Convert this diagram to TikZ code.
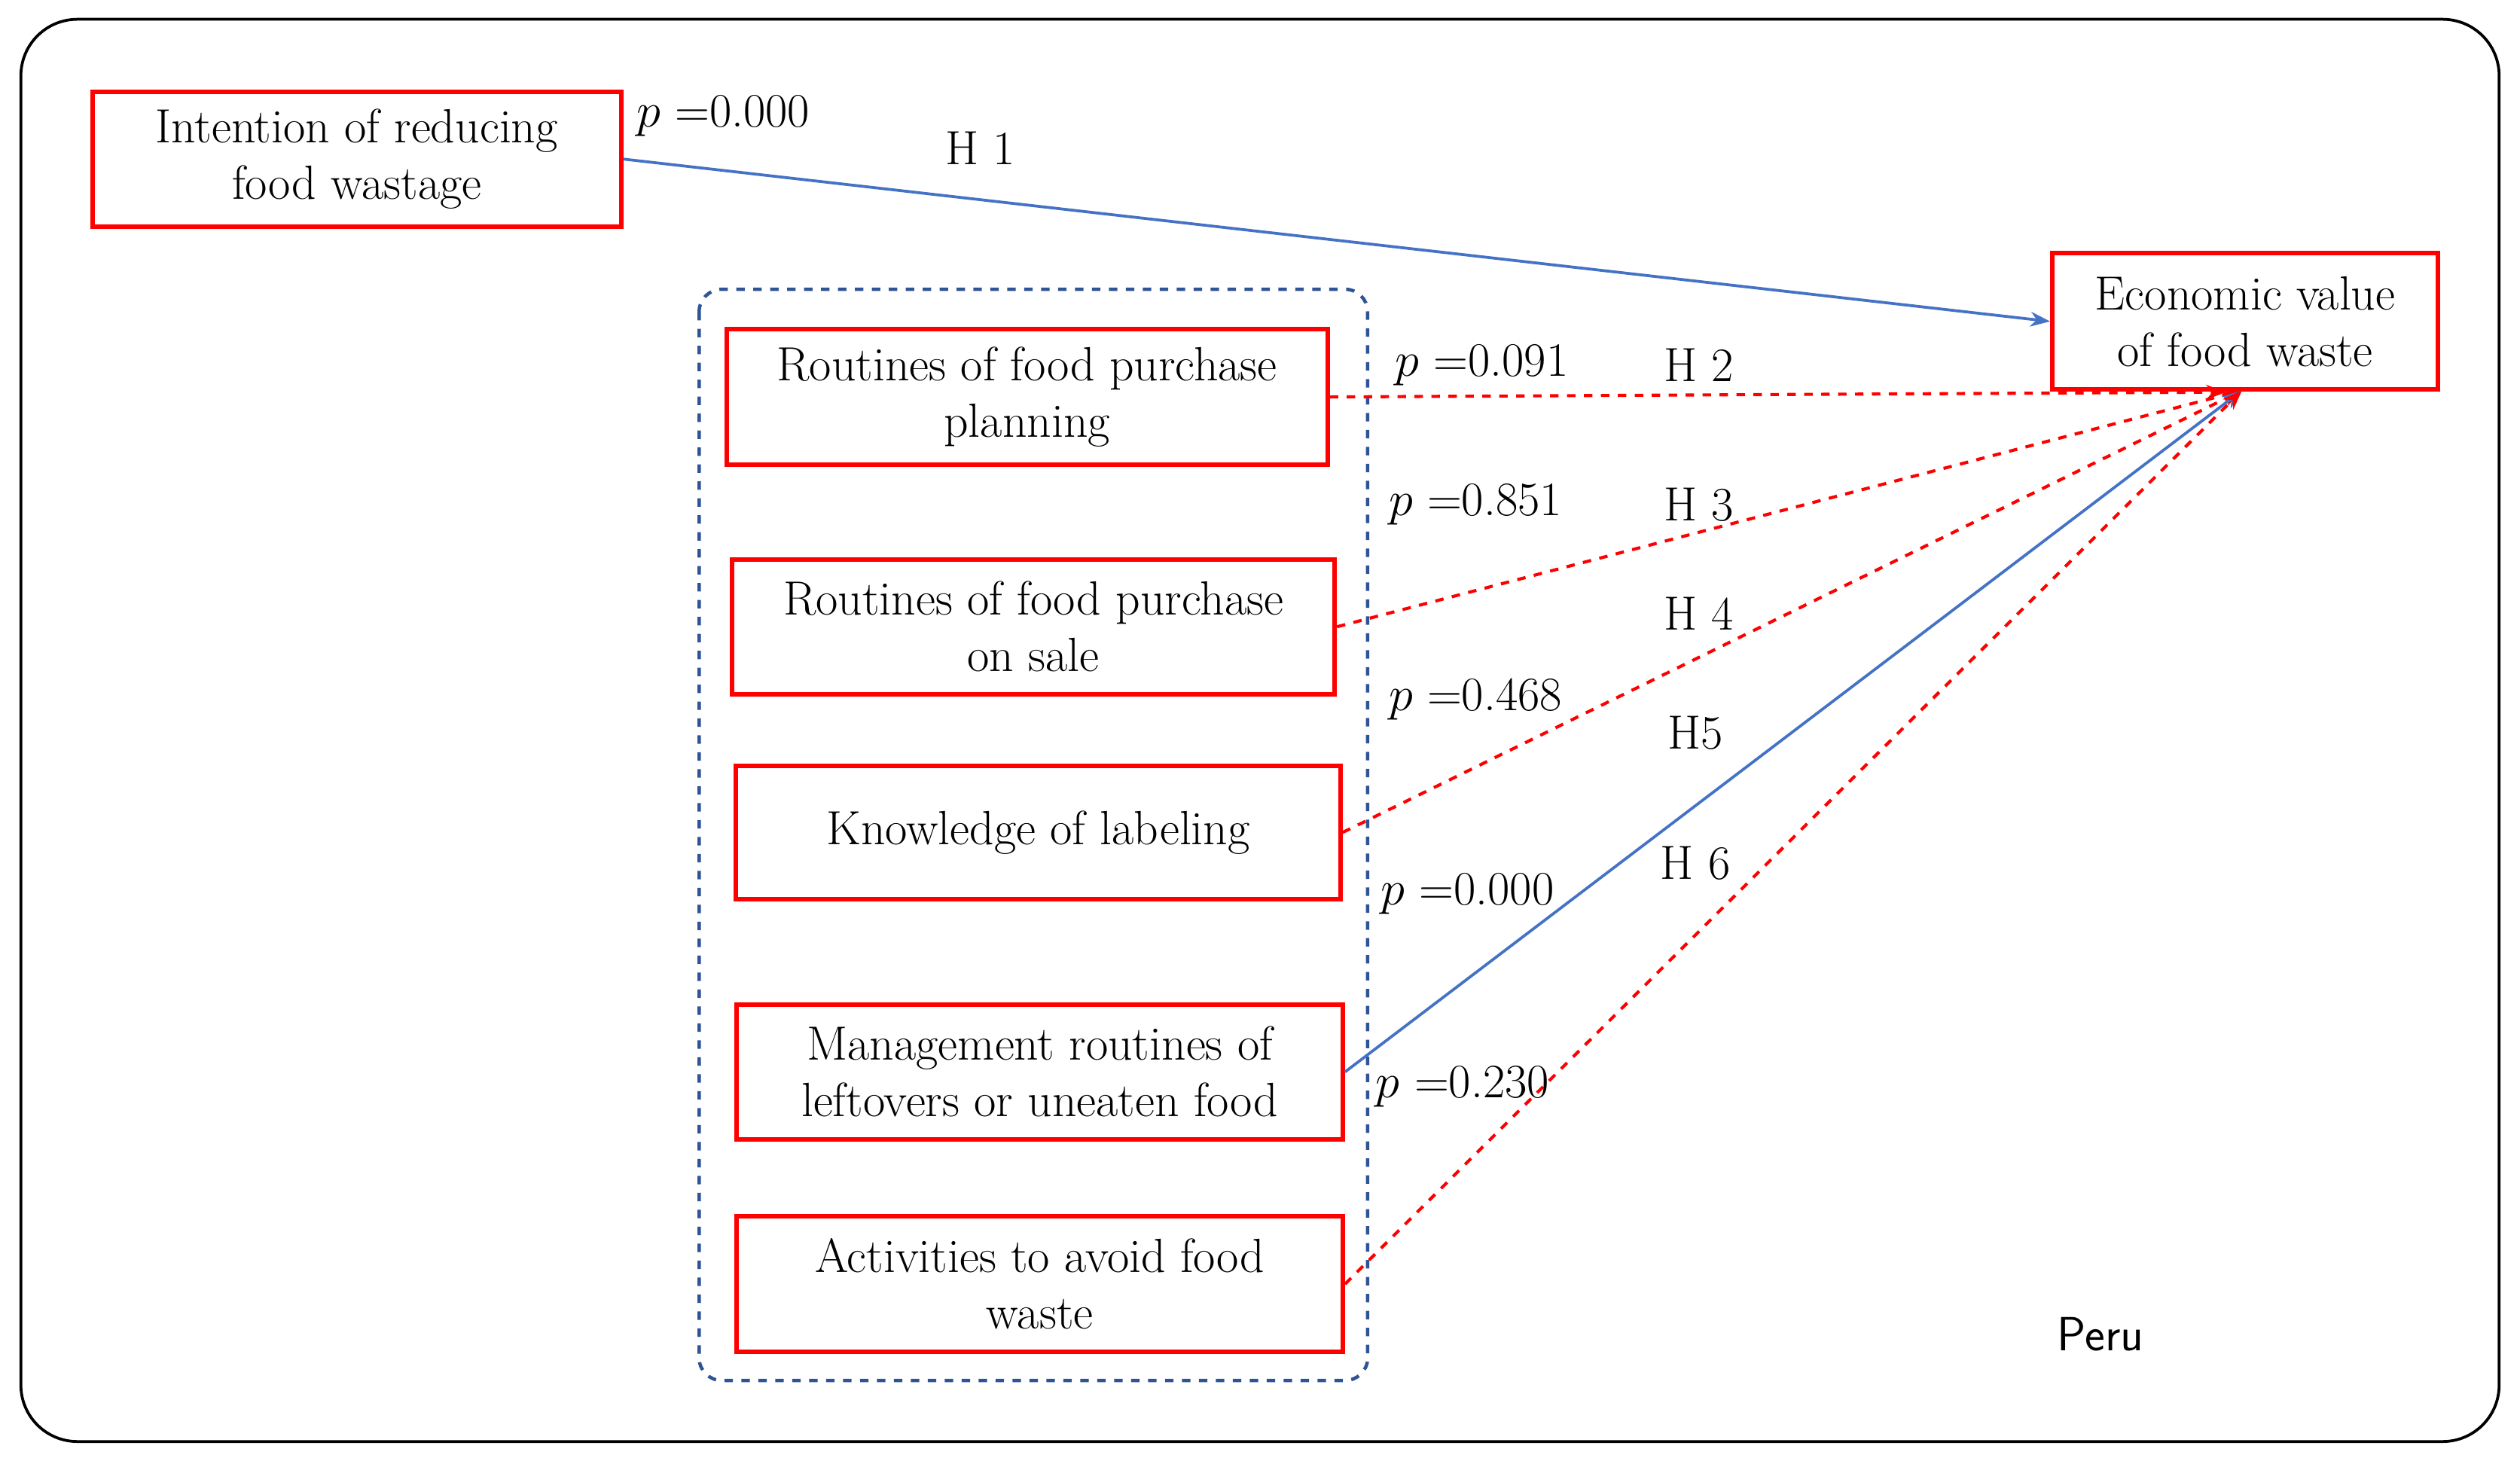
\documentclass[tikz,border=0pt]{standalone}
\usetikzlibrary{arrows.meta}
\begin{document}
\begin{tikzpicture}[x={(0.02cm,0)},y={(0,-0.02cm)},
 box/.style={draw=red,line width=1.6pt,minimum width=0,inner sep=0pt,align=center,font=\fontsize{17}{20}\selectfont},
 lab/.style={font=\fontsize{17}{20}\selectfont},
 blu/.style={draw={rgb,255:red,68;green,114;blue,196},line width=1pt,-{Stealth[length=7pt]}},
 rd/.style={draw=red,dashed,line width=1.1pt,-{Stealth[length=7pt]}}]
\useasboundingbox (0,0) rectangle (1568,909);
\draw[line width=1pt,rounded corners=20pt] (13,12) rectangle (1555,897);
\draw[dashed,line width=1.2pt,draw={rgb,255:red,47;green,84;blue,150},rounded corners=8pt] (435,180) rectangle (851,859);
\node[box,minimum width=329*0.02cm,minimum height=84*0.02cm] (i) at (222,99) {Intention of reducing\\food wastage};
\node[box,minimum width=240*0.02cm,minimum height=85*0.02cm] (e) at (1397,200) {Economic value\\of food waste};
\node[box,minimum width=374*0.02cm,minimum height=84*0.02cm] (r1) at (639,247) {Routines of food purchase\\planning};
\node[box,minimum width=375*0.02cm,minimum height=84*0.02cm] (r2) at (643,390) {Routines of food purchase\\on sale};
\node[box,minimum width=376*0.02cm,minimum height=83*0.02cm] (k) at (646,518) {Knowledge of labeling};
\node[box,minimum width=377*0.02cm,minimum height=84*0.02cm] (m) at (647,667) {Management routines of\\leftovers or uneaten food};
\node[box,minimum width=377*0.02cm,minimum height=84*0.02cm] (a) at (647,799) {Activities to avoid food\\waste};
\coordinate (t) at (1395,243);
\coordinate (t2) at (1385,244);
\draw[blu] (i.east) -- (e.west |- 0,200);
\draw[rd] (r1.east) -- (t2);
\draw[rd] (r2.east) -- (t);
\draw[rd] (k.east) -- (t);
\draw[blu] (m.east) -- (t);
\draw[rd] (a.east) -- (t);
\node[lab] (l1) at (450,72) {$p$ =0.000};
\node[lab] (h1) at (610,92) {H 1};
\node[lab] (l2) at (922,227) {$p$ =0.091};
\node[lab] (h2) at (1057,227) {H 2};
\node[lab] (l3) at (918,314) {$p$ =0.851};
\node[lab] (h3) at (1057,314) {H 3};
\node[lab] (h4) at (1057,382) {H 4};
\node[lab] (l4) at (918,435) {$p$ =0.468};
\node[lab] (h5) at (1055,456) {H5};
\node[lab] (h6) at (1055,537) {H 6};
\node[lab] (l5) at (913,556) {$p$ =0.000};
\node[lab] (l6) at (910,676) {$p$ =0.230};
\node[lab,font=\fontsize{17}{20}\sffamily] (pe) at (1307,830) {Peru};
\end{tikzpicture}
\end{document}
